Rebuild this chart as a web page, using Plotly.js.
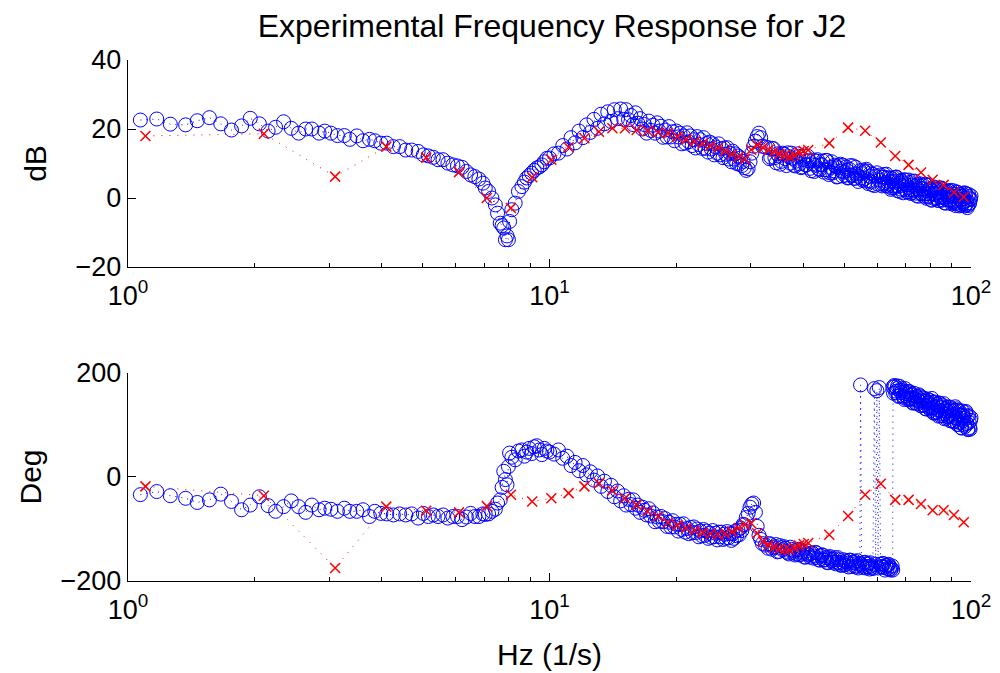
<!DOCTYPE html>
<html>
<head>
<meta charset="utf-8">
<script src="https://cdn.plot.ly/plotly-3.0.1.min.js"></script>
<style>html,body{margin:0;padding:0;background:#fff}#plot{width:1000px;height:673px}</style>
</head>
<body>
<div id="plot"></div>
<script>
// Measured response (blue circles): frequency (Hz), magnitude (dB), phase (deg)
const blueFreq = [
1.07,1.17,1.26,1.37,1.46,1.56,1.66,1.76,1.86,1.95,2.05,2.15,2.24,2.34,2.44,2.54,2.64,2.73,2.84,2.93,
3.03,3.14,3.26,3.36,3.49,3.61,3.74,3.85,3.98,4.11,4.26,4.41,4.56,4.71,4.88,5.02,5.16,5.30,5.44,5.59,
5.74,5.90,6.05,6.20,6.35,6.50,6.65,6.80,6.95,7.04,7.17,7.30,7.44,7.53,7.64,7.72,7.79,7.86,7.93,7.99,
8.04,8.14,8.29,8.44,8.60,8.72,8.83,8.95,9.07,9.20,9.33,9.46,9.59,9.72,9.86,10.0,
10.25,10.5,10.75,11.0,11.25,11.5,11.75,12.0,12.25,12.5,12.75,13.0,13.25,13.5,13.75,14.0,14.25,14.5,14.75,15.0,
15.2,15.4,15.6,15.8,16.0,16.2,16.4,16.6,16.8,17.0,17.2,17.4,17.6,17.8,18.0,18.2,18.4,18.6,18.8,19.0,
19.2,19.4,19.6,19.8,20.0,20.2,20.4,20.6,20.8,21.0,21.2,21.4,21.6,21.8,22.0,22.2,22.4,22.6,22.8,23.0,
23.2,23.4,23.6,23.8,24.0,24.2,24.4,24.6,24.8,25.0,25.2,25.4,25.6,25.8,26.0,26.2,26.4,26.6,26.8,27.0,
27.2,27.4,27.6,27.8,28.0,28.2,28.4,28.6,28.8,29.0,
29.3,29.6,29.9,30.2,30.5,30.8,31.1,31.4,31.7,32.0,32.5,
33.0,33.25,33.5,33.75,34.0,34.25,34.5,34.75,35.0,35.25,35.5,35.75,36.0,36.25,36.5,36.75,37.0,37.25,37.5,37.75,
38.0,38.25,38.5,38.75,39.0,39.25,39.5,39.75,40.0,40.25,40.5,40.75,41.0,41.25,41.5,41.75,42.0,42.25,42.5,42.75,
43.0,43.25,43.5,43.75,44.0,44.25,44.5,44.75,45.0,45.25,45.5,45.75,46.0,46.25,46.5,46.75,47.0,47.25,47.5,47.75,
48.0,48.25,48.5,48.75,49.0,49.25,49.5,49.75,50.0,50.25,50.5,50.75,51.0,51.25,51.5,51.75,52.0,52.25,52.5,52.75,
53.0,53.25,53.5,53.75,54.0,
54.5,54.7,55.0,55.25,55.5,55.75,56.0,56.25,56.5,56.75,57.0,57.25,57.5,57.75,58.0,58.25,58.5,59.0,59.4,59.8,
60.2,60.6,61.0,61.25,61.5,61.75,62.0,62.25,62.5,62.75,63.0,63.25,63.5,63.75,64.0,64.25,64.5,64.75,65.0,65.2,
65.3,
65.5,65.75,66,66.25,66.5,66.75,67,67.25,67.5,67.75,68,68.25,68.5,68.75,69,69.25,69.5,69.75,70,70.25,
70.5,70.75,71,71.25,71.5,71.75,72,72.25,72.5,72.75,73,73.25,73.5,73.75,74,74.25,74.5,74.75,75,75.25,
75.5,75.75,76,76.25,76.5,76.75,77,77.25,77.5,77.75,78,78.25,78.5,78.75,79,79.25,79.5,79.75,80,80.25,
80.5,80.75,81,81.25,81.5,81.75,82,82.25,82.5,82.75,83,83.25,83.5,83.75,84,84.25,84.5,84.75,85,85.25,
85.5,85.75,86,86.25,86.5,86.75,87,87.25,87.5,87.75,88,88.25,88.5,88.75,89,89.25,89.5,89.75,90,90.25,
90.5,90.75,91,91.25,91.5,91.75,92,92.25,92.5,92.75,93,93.25,93.5,93.75,94,94.25,94.5,94.75,95,95.25,
95.5,95.75,96,96.25,96.5,96.75,97,97.25,97.5,97.75,98,98.25,98.5,98.75,99,99.25,99.5,99.75,100];
const blueDb = [
22.6,22.9,21.4,21.2,22.4,23.3,21.5,19.7,20.9,23.1,21.5,19.4,20.5,22.1,20.2,18.8,20.0,20.0,18.8,19.4,
18.8,18.1,18.1,17.0,18.0,16.6,17.0,16.6,15.9,15.9,14.9,14.9,13.9,13.9,13.5,12.5,12.2,11.8,11.1,11.1,
10.1,9.6,9.3,8.9,7.7,6.7,6.2,5.5,4.3,2.9,1.9,0.0,-2.0,-4.4,-7.3,-8.0,-8.7,-12.1,-11.0,-12.1,
-6.8,-3.4,-1.5,1.9,3.3,4.6,5.8,6.5,7.2,8.0,8.7,9.0,9.6,10.5,11.5,11.6,
12.8,13.0,15.2,14.2,17.5,16.0,19.4,17.5,21.2,19.0,22.8,20.2,24.3,21.5,25.0,22.2,25.6,23.0,25.8,22.8,
25.6,22.7,23.9,21.3,24.7,21.7,23.0,20.0,21.3,18.8,22.3,19.6,21.1,18.8,21.8,19.4,20.8,17.6,19.7,17.7,
20.7,17.7,19.2,16.6,19.4,17.7,18.8,15.7,18.0,15.9,18.9,16.3,18.0,15.2,16.9,14.5,17.8,15.5,16.9,14.4,
17.5,14.4,15.8,13.3,16.2,14.2,15.7,12.5,14.8,13.0,15.7,12.5,14.3,11.7,14.5,12.7,14.6,11.3,13.0,10.5,
13.6,11.3,12.8,10.0,12.2,9.8,11.6,9.4,10.6,8.8,
8.0,8.5,10.5,13.0,15.0,16.5,17.8,18.8,17.5,15.0,14.8,
14.6,11.4,11.8,14.4,14.3,11.7,10.2,12.8,12.2,9.8,10.6,13.0,12.7,11.4,9.4,13.1,12.0,10.1,13.0,11.5,
9.5,9.3,10.7,12.8,12.1,9.9,8.8,9.0,11.2,12.1,9.6,9.6,12.1,10.8,8.6,7.9,9.9,11.0,7.7,9.5,
10.7,11.1,8.5,8.2,9.7,9.6,10.7,7.5,8.2,10.9,10.9,8.1,6.8,7.3,8.9,10.5,7.3,7.9,9.5,9.1,
6.1,6.2,8.8,9.4,9.8,7.8,6.4,9.5,7.5,6.6,9.0,8.0,5.8,5.9,8.3,9.4,6.7,6.5,9.3,5.7,
5.7,8.9,7.0,6.4,4.8,
7.9,5.8,7.1,5.2,8.1,7.6,5.6,4.9,8.3,7.8,4.2,5.0,6.3,7.2,4.7,3.9,6.9,3.6,6.3,7.3,
4.0,5.2,6.7,6.1,3.5,4.0,6.0,6.8,4.4,3.6,6.9,5.9,3.4,4.1,4.7,5.8,2.5,2.9,5.6,3.5,
4.8,
5.9,2.9,3.4,6.0,6.1,3.6,2.1,4.8,4.2,1.9,2.6,5.1,4.8,3.6,1.5,5.3,4.2,2.4,5.2,3.8,
1.8,1.7,3.0,5.2,4.5,2.4,1.3,1.6,3.8,4.8,2.2,2.3,4.9,3.5,1.4,0.7,2.7,3.9,0.5,2.4,
3.6,4.1,1.4,1.2,2.7,2.6,3.7,0.5,1.2,4.0,3.9,1.2,-0.1,0.4,2.1,3.7,0.5,1.2,2.7,2.4,
-0.6,-0.6,2.1,2.7,3.2,1.2,-0.2,3.0,1.0,0.1,2.5,1.5,-0.7,-0.7,1.8,2.9,0.3,0.1,2.9,-0.6,
-0.6,2.6,0.8,0.2,-1.4,1.4,1.8,-1.5,-0.4,1.8,0.9,0.3,2.0,2.0,-0.5,-0.8,2.2,0.6,-1.7,-1.4,
0.5,2.1,-1.1,-0.7,1.1,-1.5,-2.2,1.8,0.5,-0.7,1.6,0.6,-1.8,-2.3,-0.5,1.0,1.0,-0.5,-2.1,1.3,
0.5,-1.6,-1.1,-0.2,1.5,-2.3,-2.0,1.3,-0.7,-1.5,-2.8,-2.2,0.4,1.0,-1.8,-1.4,-0.5,-0.2,0.6];
const bluePhase = [
-34,-28,-36,-41,-49,-44,-33,-47,-63,-54,-38,-55,-66,-57,-46,-57,-68,-54,-63,-60,
-62,-66,-60,-66,-66,-63,-76,-66,-70,-71,-73,-71,-73,-71,-79,-70,-76,-73,-76,-73,
-79,-76,-76,-82,-77,-70,-76,-76,-71,-72,-71,-66,-62,-50,-44,-20,11,-5,-15,20,
46,38,33,50,52,40,48,55,45,58,60,52,43,55,50,48,
44,52,36,40,22,28,12,22,4,10,-6,2,-18,-8,-28,-16,-38,-27,-46,-36,
-54,-43,-53,-44,-60,-54,-68,-58,-64,-73,-61,-75,-69,-86,-77,-85,-76,-86,-80,-95,
-87,-96,-84,-96,-91,-104,-91,-101,-90,-106,-99,-109,-97,-107,-96,-107,-100,-115,-104,-113,
-101,-112,-104,-118,-108,-116,-103,-115,-108,-121,-106,-115,-106,-120,-110,-118,-105,-117,-109,-122,
-109,-118,-104,-113,-102,-111,-98,-103,-91,-92,
-78,-70,-58,-52,-50,-68,-95,-112,-120,-128,-131,
-137,-128,-130,-139,-136,-134,-130,-144,-143,-132,-136,-140,-134,-137,-143,-146,-148,-135,-139,-145,
-142,-150,-148,-140,-139,-150,-148,-145,-143,-154,-154,-142,-148,-150,-154,-147,-146,-156,-152,-145,
-146,-155,-159,-160,-152,-150,-150,-160,-159,-155,-164,-165,-155,-153,-158,-161,-164,-158,-155,-167,
-164,-155,-159,-165,-169,-170,-164,-159,-169,-169,-161,-163,-166,-173,-160,-160,-172,-168,-165,-164,
-162,-173,-171,-161,-175,
-166,177,-168,-171,-174,-165,-164,-175,-172,-168,-166,-173,-177,-165,-171,-174,-176,170,-168,166,
-175,172,-168,-172,-173,-166,-167,-174,-179,-170,-171,-176,-169,-168,-177,-173,-179,-176,-171,-179,
173,
161,176,174,162,165,170,175,155,156,174,167,162,170,166,156,153,149,170,164,156,
160,149,151,164,164,149,151,157,159,142,143,161,151,149,142,154,155,141,146,158,
156,144,137,137,148,152,152,138,138,146,131,131,146,150,142,138,133,143,147,128,
133,151,144,132,123,123,134,144,123,125,140,136,129,117,142,142,118,127,133,135,
138,118,121,141,112,122,131,113,127,134,116,116,135,127,118,108,129,133,108,117,
120,127,107,106,128,135,114,112,131,101,101,128,120,105,126,119,105,95,94,127,
119,108,113,117,100,97,124,126,103,103,117,92,91,118,105,95,92,109,114];

// Second data set (red crosses)
const redFreq = [1.1,2.1,3.1,4.1,5.1,6.1,7.1,8.1,9.1,10.1,11.1,12.1,13.1,14.1,15.1,16.1,17.1,18.1,19.1,20.1,
21.1,22.1,23.1,24.1,25.1,26.1,27.1,28.1,29.1,30.1,31.1,32.1,33.1,34.1,35.1,36.1,37.1,38.1,39.1,40.1,41.1,
46.1,51.1,56.1,61.1,66.1,71.1,76.1,81.1,86.1,91.1,96.1];
const redDb = [18.0,18.6,6.2,14.9,11.7,7.5,0.0,-2.9,6.0,11.1,14.7,17.3,19.2,20.2,20.2,19.7,19.4,19.0,18.8,17.8,
17.0,16.4,15.8,15.1,14.5,13.6,12.7,11.9,11.3,14.0,15.3,14.6,14.0,13.5,12.8,12.3,12.0,12.4,13.3,13.6,13.9,
15.9,20.4,19.5,16.1,12.2,9.6,7.4,5.3,3.8,1.6,0.3];
const redPhase = [-18,-36,-175,-57,-65,-68,-56,-34,-47,-41,-31,-18,-12,-26,-41,-54,-66,-76,-88,-93,
-98,-103,-107,-109,-111,-109,-105,-98,-92,-89,-108,-124,-131,-135,-138,-140,-140,-136,-132,-129,-127,
-111,-75,-34,-13,-44,-44,-52,-64,-64,-73,-87];

const xTickVals = [1, 10, 100];
const xTickText = ['10<sup>0</sup>', '10<sup>1</sup>', '10<sup>2</sup>'];
const xMinorVals = [2,3,4,5,6,7,8,9,20,30,40,50,60,70,80,90];
const dbTicks = [-20, 0, 20, 40];
const phaseTicks = [-200, 0, 200];

const FONT = 'Liberation Sans, Arial, Helvetica, sans-serif';
const blue = '#0000ff', red = '#ff0000';

function blueTrace(y, xa, ya) {
  return {x: blueFreq, y: y, xaxis: xa, yaxis: ya, type: 'scatter', mode: 'lines+markers',
    cliponaxis: false, showlegend: false,
    line: {color: blue, width: 1, dash: '1px,5px'},
    marker: {symbol: 'circle-open', size: 14, color: blue, line: {color: blue, width: 1}}};
}
function redTrace(y, xa, ya) {
  return {x: redFreq, y: y, xaxis: xa, yaxis: ya, type: 'scatter', mode: 'lines+markers',
    cliponaxis: false, showlegend: false,
    line: {color: red, width: 1, dash: '1px,7px'},
    marker: {symbol: 'x-thin-open', size: 10, color: red, line: {color: red, width: 1.5}}};
}

const xBase = {type: 'log', range: [0, 2], tickvals: xTickVals, ticktext: xTickText,
  ticks: 'inside', ticklen: 8, tickwidth: 1, tickcolor: '#000', ticklabelstandoff: 4,
  showline: true, linecolor: '#000', linewidth: 1.2, showgrid: false, zeroline: false,
  automargin: false, tickfont: {family: FONT, size: 27, color: '#000'},
  minor: {tickvals: xMinorVals, ticks: 'inside', ticklen: 4, tickcolor: '#000', tickwidth: 1, showgrid: false}};
const yBase = {ticks: 'inside', ticklen: 8, tickwidth: 1, tickcolor: '#000',
  showline: true, linecolor: '#000', linewidth: 1.2, showgrid: false, zeroline: false,
  automargin: false, tickfont: {family: FONT, size: 27, color: '#000'}};

const layout = {
  width: 1000, height: 673, paper_bgcolor: '#fff', plot_bgcolor: '#fff',
  margin: {l: 128, r: 29, t: 0, b: 0},
  font: {family: FONT, color: '#000'},
  title: {text: 'Experimental Frequency Response for J2', font: {family: FONT, size: 32, color: '#000'},
          x: 0.503, xanchor: 'center', y: 0.962, yanchor: 'middle', xref: 'paper', yref: 'paper'},
  xaxis: Object.assign({}, xBase, {anchor: 'y', domain: [0, 1]}),
  yaxis: Object.assign({}, yBase, {anchor: 'x', domain: [0.6033, 0.9108], range: [-20, 40], tickvals: dbTicks,
    title: {text: 'dB', font: {family: FONT, size: 30, color: '#000'}, standoff: 20}}),
  xaxis2: Object.assign({}, xBase, {anchor: 'y2', domain: [0, 1],
    title: {text: 'Hz (1/s)', font: {family: FONT, size: 30, color: '#000'}, standoff: 20}}),
  yaxis2: Object.assign({}, yBase, {anchor: 'x2', domain: [0.1367, 0.4458], range: [-200, 200], tickvals: phaseTicks,
    title: {text: 'Deg', font: {family: FONT, size: 30, color: '#000'}, standoff: 10}})
};

Plotly.newPlot('plot', [
  blueTrace(blueDb, 'x', 'y'), redTrace(redDb, 'x', 'y'),
  blueTrace(bluePhase, 'x2', 'y2'), redTrace(redPhase, 'x2', 'y2')
], layout, {staticPlot: true, displayModeBar: false});
</script>
</body>
</html>
